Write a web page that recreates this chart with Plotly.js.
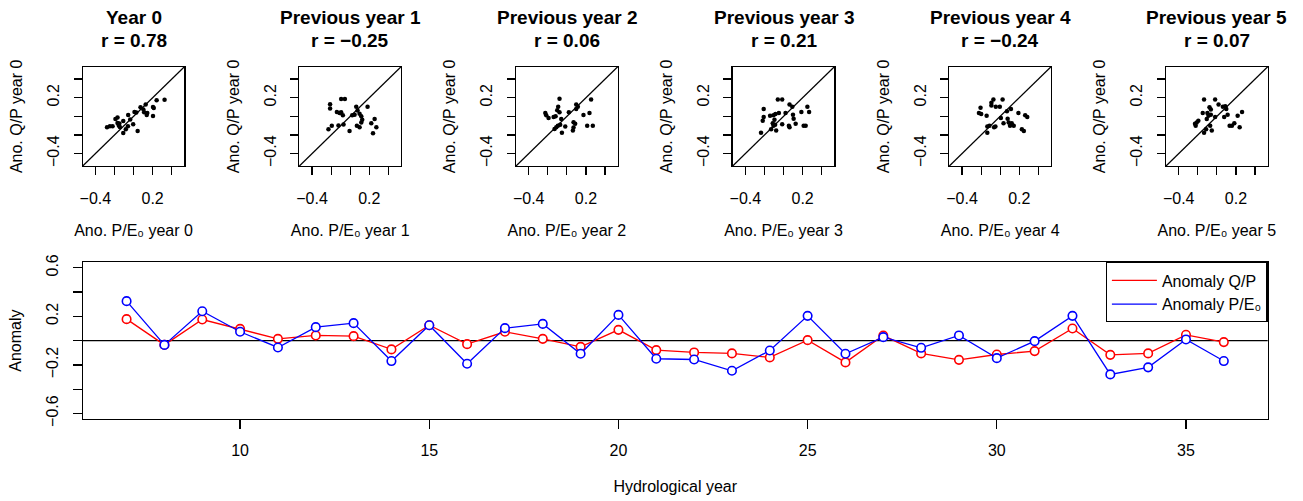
<!DOCTYPE html>
<html>
<head>
<meta charset="utf-8">
<script src="https://cdn.plot.ly/plotly-3.0.1.min.js"></script>
<style>html,body{margin:0;padding:0;background:#fff;}#chart{width:1303px;height:501px;}</style>
</head>
<body>
<div id="chart"></div>
<script>
// ---------------- DATA ----------------
const years = [7,8,9,10,11,12,13,14,15,16,17,18,19,20,21,22,23,24,25,26,27,28,29,30,31,32,33,34,35,36];
const anomQP = [0.177,-0.035,0.174,0.097,0.015,0.043,0.037,-0.072,0.127,-0.029,0.073,0.015,-0.051,0.089,-0.078,-0.097,-0.105,-0.138,0.004,-0.179,0.042,-0.105,-0.158,-0.114,-0.086,0.100,-0.117,-0.105,0.048,-0.012];
const anomPE = [0.325,-0.035,0.242,0.073,-0.056,0.111,0.144,-0.168,0.127,-0.190,0.103,0.138,-0.108,0.212,-0.149,-0.155,-0.248,-0.081,0.204,-0.108,0.029,-0.059,0.043,-0.144,-0.004,0.204,-0.278,-0.220,0.010,-0.168];

const panelTitles = ['Year 0','Previous year 1','Previous year 2','Previous year 3','Previous year 4','Previous year 5'];
const rValues = ['0.78','\u22120.25','0.06','0.21','\u22120.24','0.07'];
const panelLags = [0,1,2,3,4,5];

// Scatter points (x = Ano. P/E0 of previous year, y = Ano. Q/P year 0)
const lag1X = [-0.211,-0.211,-0.095,-0.056,-0.140,-0.112,-0.077,-0.123,-0.070,-0.228,-0.193,-0.007,0.021,0.063,0.077,0.098,0.116,0.126,0.116,0.070,0.098,0.182,0.221,0.256,0.274,0.239,0.046,-0.095];
const lag1Y = [0.131,0.084,0.185,0.185,0.047,0.036,0.011,-0.098,-0.087,-0.138,-0.102,-0.156,0.011,0.102,0.062,0.029,0.000,-0.036,-0.065,-0.102,-0.116,0.102,-0.073,-0.029,-0.116,-0.182,0.018,0.044];
const lag2X = [-0.226,-0.216,-0.192,-0.139,-0.101,-0.091,-0.077,-0.059,-0.070,-0.094,-0.111,-0.129,-0.052,-0.017,0.021,0.098,0.115,0.098,0.070,0.087,0.070,0.063,0.174,0.213,0.272,0.237,0.254,-0.077,-0.118];
const lag2Y = [0.036,0.011,-0.018,-0.007,0.065,0.102,0.189,-0.029,-0.091,-0.102,-0.116,-0.135,-0.175,-0.109,0.044,0.127,0.102,0.080,-0.062,-0.080,-0.120,-0.153,0.015,-0.102,-0.102,0.036,0.182,0.044,0.000];
const lag3X = [-0.208,-0.208,-0.218,-0.141,-0.106,-0.085,-0.049,-0.060,-0.014,-0.113,-0.106,-0.088,-0.077,-0.130,-0.236,-0.014,0.021,0.063,0.092,0.099,0.106,0.127,0.056,0.063,0.187,0.211,0.232,0.250,0.268,-0.095];
const lag3Y = [0.080,-0.007,-0.047,0.007,0.011,0.025,0.036,0.182,0.182,-0.073,-0.102,-0.091,-0.153,-0.138,-0.175,-0.084,0.036,0.127,0.102,0.018,-0.025,-0.080,-0.102,-0.116,0.047,-0.102,-0.102,0.102,0.047,-0.036];
const lag4X = [-0.223,-0.206,-0.199,-0.142,-0.092,-0.071,-0.046,-0.004,0.025,-0.092,-0.135,-0.113,-0.064,-0.050,-0.135,0.007,0.035,0.071,0.078,0.089,0.103,0.121,0.142,0.113,0.191,0.227,0.248,0.262,0.284];
const lag4Y = [0.036,0.091,0.025,0.007,0.116,0.182,0.102,0.102,0.182,0.145,-0.109,-0.102,-0.116,-0.109,-0.175,-0.018,-0.073,0.055,-0.025,-0.065,-0.102,-0.073,-0.102,0.080,0.036,-0.138,-0.156,0.011,-0.007];
const lag5X = [-0.134,-0.077,-0.063,-0.099,-0.148,-0.088,-0.063,-0.106,-0.229,-0.222,-0.211,-0.194,-0.134,-0.113,-0.070,-0.053,-0.018,-0.018,0.018,0.063,0.077,0.099,0.113,0.088,0.134,0.158,0.183,0.218,0.239,0.264];
const lag5Y = [0.182,0.098,0.073,0.036,0.036,0.007,0.018,-0.029,-0.080,-0.102,-0.065,-0.047,-0.175,-0.138,-0.102,-0.153,-0.007,0.182,0.127,0.102,-0.007,0.080,0.018,0.109,-0.102,-0.102,-0.073,0.007,-0.116,0.047];

// labelled ticks and unlabelled (minor) ticks
const smallTicks = [-0.4,0.2];
const smallTickText = ['\u22120.4','0.2'];
const smallMinorTicks = [-0.2,0,0.4];
const bottomXTicks = [10,15,20,25,30,35];
const bottomYTicks = [-0.6,-0.2,0.2,0.6];
const bottomYTickText = ['\u22120.6','\u22120.2','0.2','0.6'];
const bottomYMinorTicks = [-0.4,0,0.4];
const seriesNames = ['Anomaly Q/P','Anomaly P/E\u2080'];

// ---------------- LAYOUT ----------------
const W = 1303, H = 501;
const FONT = 'Liberation Sans, Arial, Helvetica, sans-serif';
const px = p => p / W;
const py = p => 1 - p / H;
const LW = 1.2;

const boxLeft0 = 82.7, boxW = 101.7, step = 216.66;
const topBoxTop = 66.7, topBoxBot = 166;
const botLeft = 82.7, botRight = 1267.7, botTop = 262.3, botBot = 419;

const scatterSets = [
  [anomPE, anomQP],
  [lag1X, lag1Y],
  [lag2X, lag2Y],
  [lag3X, lag3Y],
  [lag4X, lag4Y],
  [lag5X, lag5Y]
];

const traces = [];
const layout = {
  width: W, height: H,
  margin: {l:0, r:0, t:0, b:0},
  paper_bgcolor: 'white', plot_bgcolor: 'white',
  font: {family: FONT, size: 16, color: 'black'},
  showlegend: true,
  shapes: [], annotations: []
};

function axisCommon(len, minorVals) {
  const a = {
    ticks: 'outside', ticklen: len, tickwidth: LW, tickcolor: 'black',
    showline: true, mirror: true, linecolor: 'black', linewidth: LW,
    showgrid: false, zeroline: false, fixedrange: true,
    tickfont: {family: FONT, size: 16, color: 'black'}
  };
  if (minorVals) {
    a.minor = {tickmode: 'array', tickvals: minorVals, ticks: 'outside', ticklen: len,
      tickwidth: LW, tickcolor: 'black', showgrid: false};
  }
  return a;
}
const titleFont = {family: FONT, size: 16, color: 'black'};

for (let i = 0; i < 6; i++) {
  const n = i + 1;
  const L = boxLeft0 + i * step;
  const xa = Object.assign(axisCommon(8, smallMinorTicks), {
    domain: [px(L), px(L + boxW)], range: [-0.533, 0.533], anchor: 'y' + n,
    tickmode: 'array', tickvals: smallTicks, ticktext: smallTickText,
    ticklabelstandoff: 10,
    title: {text: 'Ano. P/E\u2080 year ' + panelLags[i], font: titleFont, standoff: 18}
  });
  const ya = Object.assign(axisCommon(8, smallMinorTicks), {
    domain: [py(topBoxBot), py(topBoxTop)], range: [-0.533, 0.533], anchor: 'x' + n,
    tickmode: 'array', tickvals: smallTicks, ticktext: smallTickText,
    tickangle: -90, ticklabelstandoff: 8,
    title: {text: 'Ano. Q/P year 0', font: titleFont, standoff: 18}
  });
  layout['xaxis' + (n === 1 ? '' : n)] = xa;
  layout['yaxis' + (n === 1 ? '' : n)] = ya;

  const xr = n === 1 ? 'x' : 'x' + n;
  const yr = n === 1 ? 'y' : 'y' + n;
  traces.push({
    x: scatterSets[i][0], y: scatterSets[i][1],
    xaxis: xr, yaxis: yr, type: 'scatter', mode: 'markers',
    marker: {color: 'black', size: 4.5}, showlegend: false, hoverinfo: 'skip'
  });
  // 1:1 line
  layout.shapes.push({type: 'line', xref: xr + ' domain', yref: yr + ' domain',
    x0: 0, y0: 0, x1: 1, y1: 1, line: {color: 'black', width: LW}});

  const cx = L + boxW / 2;
  layout.annotations.push({text: '<b>' + panelTitles[i] + '</b>', x: px(cx), y: py(18),
    xref: 'paper', yref: 'paper', xanchor: 'center', yanchor: 'middle', showarrow: false,
    font: {family: FONT, size: 19, color: 'black'}});
  layout.annotations.push({text: '<b>r = ' + rValues[i] + '</b>', x: px(cx), y: py(41),
    xref: 'paper', yref: 'paper', xanchor: 'center', yanchor: 'middle', showarrow: false,
    font: {family: FONT, size: 19, color: 'black'}});
}

// bottom panel
layout.xaxis7 = Object.assign(axisCommon(9), {
  domain: [px(botLeft), px(botRight)], range: [5.84, 37.16], anchor: 'y7',
  tickmode: 'array', tickvals: bottomXTicks, ticklabelstandoff: 8,
  title: {text: 'Hydrological year', font: titleFont, standoff: 22}
});
layout.yaxis7 = Object.assign(axisCommon(9, bottomYMinorTicks), {
  domain: [py(botBot), py(botTop)], range: [-0.645, 0.645], anchor: 'x7',
  tickmode: 'array', tickvals: bottomYTicks, ticktext: bottomYTickText,
  tickangle: -90, ticklabelstandoff: 8,
  title: {text: 'Anomaly', font: titleFont, standoff: 18}
});
layout.shapes.push({type: 'line', xref: 'x7 domain', yref: 'y7', x0: 0, x1: 1, y0: 0, y1: 0,
  line: {color: 'black', width: LW}, layer: 'below'});

traces.push({x: years, y: anomQP, xaxis: 'x7', yaxis: 'y7', type: 'scatter', mode: 'lines+markers',
  line: {color: '#FF0000', width: 1.3},
  marker: {symbol: 'circle', size: 8.5, color: 'white', line: {color: '#FF0000', width: 1.6}},
  showlegend: false, hoverinfo: 'skip'});
traces.push({x: years, y: anomPE, xaxis: 'x7', yaxis: 'y7', type: 'scatter', mode: 'lines+markers',
  line: {color: '#0000FF', width: 1.3},
  marker: {symbol: 'circle', size: 8.5, color: 'white', line: {color: '#0000FF', width: 1.6}},
  showlegend: false, hoverinfo: 'skip'});
// legend entries (line only, as in the original)
traces.push({x: [null], y: [null], xaxis: 'x7', yaxis: 'y7', type: 'scatter', mode: 'lines',
  line: {color: '#FF0000', width: 1.3}, name: seriesNames[0]});
traces.push({x: [null], y: [null], xaxis: 'x7', yaxis: 'y7', type: 'scatter', mode: 'lines',
  line: {color: '#0000FF', width: 1.3}, name: seriesNames[1]});

layout.legend = {x: px(botRight), y: py(botTop), xanchor: 'right', yanchor: 'top',
  bordercolor: 'black', borderwidth: LW, bgcolor: 'white',
  font: {family: FONT, size: 16, color: 'black'}, tracegroupgap: 0, itemwidth: 45};

Plotly.newPlot('chart', traces, layout, {displayModeBar: false, staticPlot: true});
</script>
</body>
</html>
